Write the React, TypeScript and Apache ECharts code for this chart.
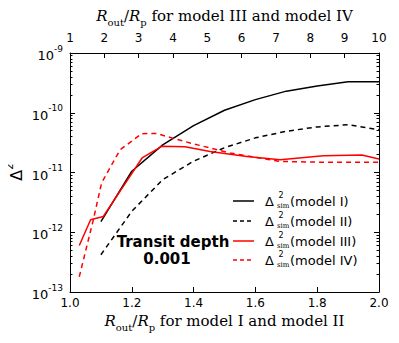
import React, { useEffect, useRef } from "react";
import * as echarts from "echarts";

// ---- data ----
const xModelsI_II = [1.1, 1.2, 1.3, 1.4, 1.5, 1.6, 1.7, 1.8, 1.9, 2.0];
const modelI = [1.5e-12, 1.05e-11, 2.9e-11, 6.1e-11, 1.1e-10, 1.66e-10, 2.3e-10, 2.8e-10, 3.3e-10, 3.3e-10];
const modelII = [4.2e-13, 2.24e-12, 7.6e-12, 1.55e-11, 2.6e-11, 3.8e-11, 4.9e-11, 5.8e-11, 6.3e-11, 5.2e-11];

const xModelIII = [1.27, 1.6, 1.97, 3.1, 3.67, 4.35, 5.08, 6.15, 7.12, 8.38, 9.5, 10];
const modelIII = [6.0e-13, 1.62e-12, 1.84e-12, 1.75e-11, 2.74e-11, 2.7e-11, 2.25e-11, 1.86e-11, 1.64e-11, 1.9e-11, 1.96e-11, 1.68e-11];

const xModelIV = [1.27, 1.68, 1.92, 2.46, 3.09, 3.53, 3.82, 4.5, 5.66, 6.34, 7.12, 8.57, 10];
const modelIV = [1.8e-13, 1.62e-12, 6.7e-12, 2.4e-11, 4.47e-11, 4.5e-11, 4.0e-11, 3.12e-11, 2.12e-11, 1.82e-11, 1.53e-11, 1.48e-11, 1.48e-11];

const bottomTicks = ["1.0", "1.2", "1.4", "1.6", "1.8", "2.0"];
const topTicks = ["1", "2", "3", "4", "5", "6", "7", "8", "9", "10"];
const legendNames = ["model I", "model II", "model III", "model IV"];
const legendColors = ["#000000", "#000000", "#ff0000", "#ff0000"];
const legendDashed = [false, true, false, true];

const SANS = "DejaVu Sans";
const SERIF = "DejaVu Serif";

function pairs(xs: number[], ys: number[]) {
  return xs.map((x, i) => [x, ys[i]]);
}

export default function App() {
  const ref = useRef<HTMLDivElement>(null);

  useEffect(() => {
    if (!ref.current) return;
    const chart = echarts.init(ref.current, null, { renderer: "svg" });

    const minorValues: number[] = [];
    for (let e = -13; e < -9; e++) {
      for (let m = 2; m <= 9; m++) minorValues.push(m * Math.pow(10, e));
    }

    const nameRich = {
      i: { fontFamily: SERIF, fontStyle: "italic", fontSize: 15, color: "#000", lineHeight: 22 },
      s: { fontFamily: SERIF, fontSize: 10, color: "#000", lineHeight: 12, verticalAlign: "bottom" },
      n: { fontFamily: SERIF, fontSize: 15, color: "#000", lineHeight: 22 },
    };

    const yBase: any = {
      type: "log",
      logBase: 10,
      min: 1e-13,
      max: 1e-9,
      splitLine: { show: false },
    };

    const lineStyleAxis = { color: "#000", width: 1 };

    const series: any[] = [
      {
        type: "line", name: legendNames[0], xAxisIndex: 0, yAxisIndex: 0,
        data: pairs(xModelsI_II, modelI), showSymbol: false, symbol: "none",
        lineStyle: { color: "#000", width: 1.5 },
      },
      {
        type: "line", name: legendNames[1], xAxisIndex: 0, yAxisIndex: 0,
        data: pairs(xModelsI_II, modelII), showSymbol: false, symbol: "none",
        lineStyle: { color: "#000", width: 1.5, type: [5, 4] },
      },
      {
        type: "line", name: legendNames[2], xAxisIndex: 1, yAxisIndex: 0,
        data: pairs(xModelIII, modelIII), showSymbol: false, symbol: "none",
        lineStyle: { color: "#ff0000", width: 1.5 },
      },
      {
        type: "line", name: legendNames[3], xAxisIndex: 1, yAxisIndex: 0,
        data: pairs(xModelIV, modelIV), showSymbol: false, symbol: "none",
        lineStyle: { color: "#ff0000", width: 1.5, type: [5, 4] },
      },
    ];

    const legendGraphics: any[] = [];
    const rowY = [201, 221, 241, 260];
    legendNames.forEach((nm, i) => {
      const y = rowY[i];
      legendGraphics.push({
        type: "line",
        shape: { x1: 233, y1: y, x2: 254, y2: y },
        style: {
          stroke: legendColors[i],
          lineWidth: 1.5,
          lineDash: legendDashed[i] ? [4, 3] : null,
        },
      });
      legendGraphics.push({
        type: "text", x: 265, y: y, style: { text: "Δ", font: `13px ${SANS}`, fill: "#000", verticalAlign: "middle" },
      });
      legendGraphics.push({
        type: "text", x: 278.5, y: y - 6, style: { text: "2", font: `8px ${SANS}`, fill: "#000", verticalAlign: "middle" },
      });
      legendGraphics.push({
        type: "text", x: 277, y: y + 5, style: { text: "sim", font: `7px ${SERIF}`, fill: "#000", verticalAlign: "middle" },
      });
      legendGraphics.push({
        type: "text", x: 290, y: y, style: { text: `(${nm})`, font: `13px ${SANS}`, fill: "#000", verticalAlign: "middle" },
      });
    });

    const option: any = {
      animation: false,
      grid: { left: 70, right: 20, top: 53, bottom: 51, containLabel: false },
      xAxis: [
        {
          type: "value", position: "bottom", min: 1, max: 2, interval: 0.2,
          splitLine: { show: false },
          axisLine: { show: true, lineStyle: lineStyleAxis },
          axisTick: { inside: true, length: 5, lineStyle: lineStyleAxis },
          axisLabel: {
            formatter: (_v: number, i: number) => bottomTicks[i] ?? "",
            color: "#000", fontFamily: SANS, fontSize: 12, margin: 5,
          },
          name: "{i|R}{s|out}{n|/}{i|R}{s|p}{n| for model I and model II}",
          nameLocation: "middle", nameGap: 15,
          nameTextStyle: { rich: nameRich },
        },
        {
          type: "value", position: "top", min: 1, max: 10, interval: 1,
          splitLine: { show: false },
          axisLine: { show: true, lineStyle: lineStyleAxis },
          axisTick: { inside: true, length: 5, lineStyle: lineStyleAxis },
          axisLabel: {
            formatter: (_v: number, i: number) => topTicks[i] ?? "",
            color: "#000", fontFamily: SANS, fontSize: 12, margin: 9,
          },
          name: "{i|R}{s|out}{n|/}{i|R}{s|p}{n| for model III and model IV}",
          nameLocation: "middle", nameGap: 24,
          nameTextStyle: { rich: nameRich },
        },
      ],
      yAxis: [
        {
          ...yBase, position: "left",
          axisLine: { show: true, lineStyle: lineStyleAxis },
          axisTick: { inside: true, length: 5, lineStyle: lineStyleAxis },
          axisLabel: {
            margin: 7,
            formatter: (v: number) => `{b|10}{e|${Math.round(Math.log10(v))}}`,
            rich: {
              b: { fontFamily: SANS, fontSize: 13, color: "#000", lineHeight: 18, verticalAlign: "bottom" },
              e: { fontFamily: SANS, fontSize: 9, color: "#000", lineHeight: 18, verticalAlign: "top" },
            },
          },
        },
        {
          ...yBase, position: "left",
          axisLine: { show: false },
          axisLabel: { show: false },
          axisTick: { inside: true, length: 2.5, lineStyle: lineStyleAxis, customValues: minorValues },
        },
        {
          ...yBase, position: "right",
          axisLine: { show: true, lineStyle: lineStyleAxis },
          axisLabel: { show: false },
          axisTick: { inside: true, length: 5, lineStyle: lineStyleAxis },
        },
        {
          ...yBase, position: "right",
          axisLine: { show: false },
          axisLabel: { show: false },
          axisTick: { inside: true, length: 2.5, lineStyle: lineStyleAxis, customValues: minorValues },
        },
      ],
      series,
      graphic: [
        {
          type: "text", x: 14, y: 172, rotation: Math.PI / 2,
          style: {
            text: "{d|Δ}{s|2}",
            align: "center", verticalAlign: "middle",
            rich: {
              d: { fontFamily: SANS, fontSize: 16, fill: "#000", lineHeight: 20, verticalAlign: "bottom" },
              s: { fontFamily: SANS, fontSize: 10, fill: "#000", lineHeight: 20, verticalAlign: "top" },
            },
          },
        },
        {
          type: "text", x: 173, y: 242,
          style: { text: "Transit depth", font: `bold 15px ${SANS}`, fill: "#000", align: "center", verticalAlign: "middle" },
        },
        {
          type: "text", x: 167, y: 259,
          style: { text: "0.001", font: `bold 15px ${SANS}`, fill: "#000", align: "center", verticalAlign: "middle" },
        },
        ...legendGraphics,
      ],
    };

    chart.setOption(option);
    return () => chart.dispose();
  }, []);

  return <div ref={ref} style={{ width: 399, height: 343, margin: -8, background: "#fff" }} />;
}
